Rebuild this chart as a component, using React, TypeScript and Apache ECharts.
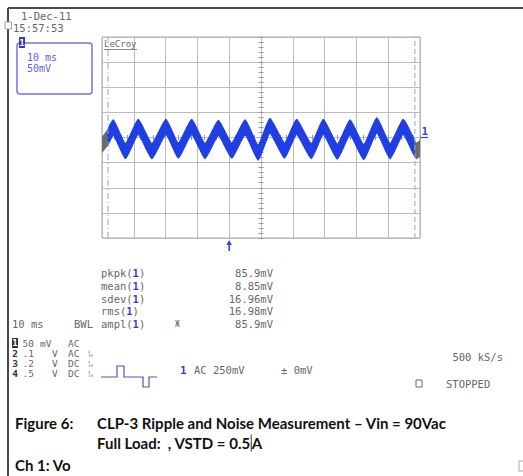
import React, { useEffect, useRef } from "react";
import * as echarts from "echarts";

// ---- data ----
// time (ms, screen centre = 0, 10 ms/div) of envelope points of the Ch1 trace
const traceTime = [-50, -48.1, -46.4, -42.6, -38.6, -34.3, -29.9, -26.0, -21.8, -17.6, -13.4, -9.2, -5.0, -0.9, 2.8, 7.4, 11.2, 15.8, 19.6, 24.0, 28.0, 32.3, 36.4, 40.6, 44.7, 48.4, 48.9, 50];
// upper edge of the noisy trace band (mV, 50 mV/div)
const traceHigh = [-1, 16, 35, -12, 36, -12, 36, -11, 36, -12, 34, -11, 35, -15, 38, -11, 36, -12, 36, -13, 35, -14, 39, -12, 36, -9, -12, -6];
// lower edge of the noisy trace band (mV)
const traceLow = [-29, -14, 5, -42, 6, -42, 6, -41, 6, -42, 4, -41, 5, -45, 8, -41, 6, -42, 6, -43, 5, -44, 9, -42, 6, -38, -42, -37];
const cursorTimes = [-48.1, 48.4];
const triggerTime = -10;
const groundLevel = 0;

const measureNames = ["pkpk", "mean", "sdev", "rms", "ampl"];
const measureValues = ["85.9mV", "8.85mV", "16.96mV", "16.98mV", "85.9mV"];
const channelNums = ["1", "2", "3", "4"];
const channelScales = ["50", ".1", ".2", ".5"];
const channelUnits = ["mV", "V", "V", "V"];
const channelCoupling = ["AC", "AC", "DC", "DC"];
const captionLine1 = "CLP-3 Ripple and Noise Measurement \u2013 Vin = 90Vac";
const captionLine2a = "Full Load:\u00a0\u00a0, VSTD = 0.5";
const captionLine2b = "A";

const BLUE = "#1f3fe4";
const GRAY_TRACE = "#6b6b6b";
const GRID = "#bcbcbc";
const TXT = "#676767";
const MONO = "DejaVu Sans Mono, monospace";
const CAP = "Lato, 'Open Sans', sans-serif";

export default function App() {
  const ref = useRef<HTMLDivElement>(null);
  useEffect(() => {
    if (!ref.current) return;
    const chart = echarts.init(ref.current, undefined, { renderer: "svg" });

    const axisCommonX = (pos: string, withSplit: boolean) => ({
      type: "value",
      position: pos,
      min: -50,
      max: 50,
      interval: 10,
      axisLabel: { show: false },
      splitLine: { show: withSplit, lineStyle: { color: GRID, width: 1 } },
      axisLine: { show: true, onZero: true, lineStyle: { color: GRID, width: 1 } },
      axisTick: { show: true, inside: false, length: 2.5, lineStyle: { color: "#999" } },
      minorTick: { show: true, splitNumber: 5, length: 2.5, lineStyle: { color: "#999" } },
    });
    const axisCommonY = (pos: string, withSplit: boolean) => ({
      type: "value",
      position: pos,
      min: -200,
      max: 200,
      interval: 50,
      axisLabel: { show: false },
      splitLine: { show: withSplit, lineStyle: { color: GRID, width: 1 } },
      axisLine: { show: true, onZero: true, lineStyle: { color: GRID, width: 1 } },
      axisTick: { show: true, inside: false, length: 2.5, lineStyle: { color: "#999" } },
      minorTick: { show: true, splitNumber: 5, length: 2.5, lineStyle: { color: "#999" } },
    });

    const band = (api: any, a: number, b: number, color: string, smooth: number) => {
      const idx = traceTime.map((_, i) => i).filter((i) => traceTime[i] >= a && traceTime[i] <= b);
      const up = idx.map((i) => api.coord([traceTime[i], traceHigh[i]]));
      const dn = idx.slice().reverse().map((i) => api.coord([traceTime[i], traceLow[i]]));
      return {
        type: "polygon",
        shape: { points: up.concat(dn), smooth },
        style: { fill: color, stroke: color, lineWidth: 1.2 },
      };
    };

    chart.setOption({
      animation: false,
      backgroundColor: "#ffffff",
      grid: { left: 102, top: 37, width: 318, height: 201, show: true, borderColor: "#a9a9a9", borderWidth: 1, containLabel: false },
      xAxis: [axisCommonX("bottom", true), axisCommonX("top", false)],
      yAxis: [axisCommonY("left", true), axisCommonY("right", false)],
      series: [
        {
          type: "custom",
          coordinateSystem: "cartesian2d",
          xAxisIndex: 0,
          yAxisIndex: 0,
          data: [[0, 0]],
          silent: true,
          clip: true,
          z: 3,
          renderItem: (_p: any, api: any) => ({
            type: "group",
            children: [
              band(api, -50, cursorTimes[0], GRAY_TRACE, 0),
              band(api, cursorTimes[0], cursorTimes[1], BLUE, 0.15),
              band(api, cursorTimes[1], 50, GRAY_TRACE, 0),
            ],
          }),
        },
        {
          type: "line",
          data: [[cursorTimes[0], -200], [cursorTimes[0], 200]],
          symbol: "none",
          silent: true,
          z: 4,
          lineStyle: { color: "#7fa6ec", width: 1, type: [6, 3, 1, 3] },
        },
        {
          type: "line",
          data: [[cursorTimes[1], -200], [cursorTimes[1], 200]],
          symbol: "none",
          silent: true,
          z: 4,
          lineStyle: { color: "#7fa6ec", width: 1, type: [5, 3] },
        },
      ],
    });

    const trig = chart.convertToPixel({ gridIndex: 0 }, [triggerTime, -200]) as number[];
    const gnd = chart.convertToPixel({ gridIndex: 0 }, [50, groundLevel]) as number[];

    const t = (x: number, y: number, text: string, extra: any = {}) => ({
      type: "text",
      x,
      y,
      style: {
        text,
        fill: TXT,
        font: `10.5px ${MONO}`,
        verticalAlign: "middle",
        align: "left",
        ...extra,
      },
    });

    const g: any[] = [];
    // outer frame
    g.push({ type: "line", shape: { x1: 8, y1: 8, x2: 523, y2: 8 }, style: { stroke: "#4a4a4a", lineWidth: 2 } });
    g.push({ type: "line", shape: { x1: 8, y1: 8, x2: 8, y2: 476 }, style: { stroke: "#4a4a4a", lineWidth: 2 } });
    g.push({ type: "rect", shape: { x: 5, y: 22, width: 6.5, height: 7 }, style: { fill: "#fff", stroke: "#8ea2c4", lineWidth: 1 } });
    // date/time
    g.push(t(21, 16, "1-Dec-11"));
    g.push(t(13, 28, "15:57:53"));
    // channel box
    g.push({ type: "rect", shape: { x: 17, y: 43, width: 75, height: 51, r: 3 }, style: { fill: "none", stroke: "#7474e0", lineWidth: 1.5 } });
    g.push({ type: "rect", shape: { x: 19, y: 37, width: 6, height: 11 }, style: { fill: "#3535d0" } });
    g.push(t(22, 42.5, "1", { fill: "#fff", font: `bold 9px ${MONO}`, align: "center" }));
    g.push(t(27, 57, "10 ms", { fill: "#6262d8", font: `10px ${MONO}` }));
    g.push(t(27, 68, "50mV", { fill: "#6262d8", font: `10px ${MONO}` }));
    // LeCroy label
    g.push(t(104, 44, "LeCroy", { fill: "#6a6a6a", font: `9px ${MONO}` }));
    g.push({ type: "line", shape: { x1: 104, y1: 49.5, x2: 137, y2: 49.5 }, style: { stroke: "#8a8a8a", lineWidth: 1 } });
    // ground marker "1"
    g.push(t(gnd[0] + 1.5, gnd[1] - 6.5, "1", { fill: "#3545d0", font: `bold 11px ${MONO}` }));
    g.push({ type: "line", shape: { x1: gnd[0] + 1, y1: gnd[1], x2: gnd[0] + 8, y2: gnd[1] }, style: { stroke: "#3545d0", lineWidth: 1.2 } });
    // trigger arrow
    g.push({ type: "line", shape: { x1: trig[0], y1: trig[1] + 4, x2: trig[0], y2: trig[1] + 13 }, style: { stroke: "#2d48d8", lineWidth: 1.6 } });
    g.push({ type: "polygon", shape: { points: [[trig[0] - 2.8, trig[1] + 7], [trig[0], trig[1] + 2], [trig[0] + 2.8, trig[1] + 7]] }, style: { fill: "#2d48d8" } });
    // measurements
    measureNames.forEach((n, i) => {
      const y = 273 + 12.75 * i;
      g.push({
        type: "text",
        x: 101,
        y,
        style: {
          text: `{a|${n}(}{b|1}{a|)}`,
          verticalAlign: "middle",
          rich: {
            a: { fill: TXT, font: `10.5px ${MONO}` },
            b: { fill: "#3a3ad8", font: `bold 10.5px ${MONO}` },
          },
        },
      });
      g.push(t(273, y, measureValues[i], { align: "right" }));
    });
    g.push(t(12, 324, "10 ms"));
    g.push(t(93, 324, "BWL", { align: "right" }));
    g.push(t(175, 324, "Ж", { font: `8px ${MONO}`, fill: "#777" }));
    // channel table
    channelNums.forEach((c, i) => {
      const y = 343 + 10 * i;
      if (i === 0) {
        g.push({ type: "rect", shape: { x: 12, y: y - 5, width: 6, height: 10 }, style: { fill: "#333" } });
        g.push(t(15, y, c, { fill: "#fff", font: `bold 9px ${MONO}`, align: "center" }));
      } else {
        g.push(t(15, y, c, { fill: "#333", font: `bold 9.5px ${MONO}`, align: "center" }));
      }
      g.push(t(34, y, channelScales[i], { align: "right", font: `9.5px ${MONO}` }));
      g.push(t(i === 0 ? 40 : 52, y, channelUnits[i], { font: `9.5px ${MONO}` }));
      g.push(t(68, y, channelCoupling[i], { font: `9.5px ${MONO}` }));
      if (i > 0) g.push(t(88, y, "x\n10", { font: `4px ${MONO}`, lineHeight: 4, fill: "#777" }));
    });
    g.push({
      type: "polyline",
      shape: { points: [[101, 377], [117, 377], [117, 366], [124, 366], [124, 377], [143, 377], [143, 387], [149, 387], [149, 377], [157, 377]] },
      style: { stroke: "#5252c8", lineWidth: 1.2, fill: "none" },
    });
    g.push(t(180, 370, "1", { fill: "#3a3ad8", font: `bold 11px ${MONO}` }));
    g.push(t(194, 370, "AC 250mV"));
    g.push(t(281, 370, "\u00b1 0mV"));
    g.push(t(503, 357, "500 kS/s", { align: "right" }));
    g.push({ type: "rect", shape: { x: 416, y: 380, width: 6, height: 7 }, style: { fill: "none", stroke: "#666", lineWidth: 1 } });
    g.push(t(446, 384, "STOPPED"));
    // caption
    const capStyle = { fill: "#111", font: `bold 15px ${CAP}` };
    const cap = (x: number, y: number, s: string) => ({
      type: "text",
      x,
      y,
      style: { text: s, ...capStyle, verticalAlign: "middle" },
    });
    g.push(cap(15, 423, "Figure 6:"));
    g.push(cap(97, 423, captionLine1));
    g.push({
      type: "text",
      x: 97,
      y: 443,
      style: {
        text: `{a|${captionLine2a}}{c|}{a|${captionLine2b}}`,
        verticalAlign: "middle",
        rich: {
          a: { ...capStyle },
          c: { width: 1, height: 17, backgroundColor: "#333" },
        },
      },
    });
    g.push(cap(15, 465, "Ch 1: Vo"));
    g.push({ type: "rect", shape: { x: 519, y: 461, width: 5, height: 10 }, style: { fill: "none", stroke: "#aaa", lineWidth: 1 } });

    chart.setOption({ graphic: g });

    return () => chart.dispose();
  }, []);

  return <div ref={ref} style={{ position: "fixed", left: 0, top: 0, width: 523, height: 476, background: "#fff" }} />;
}
